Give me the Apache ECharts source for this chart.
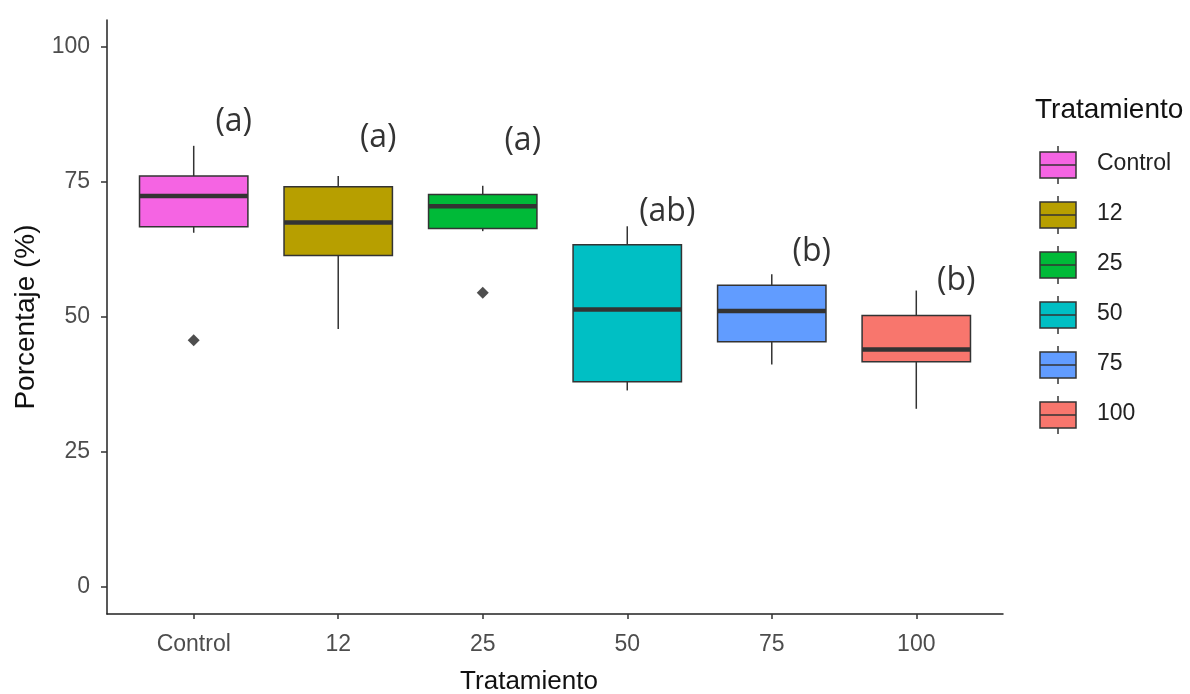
<!DOCTYPE html>
<html>
<head>
<meta charset="utf-8">
<script src="https://cdn.jsdelivr.net/npm/echarts@6/dist/echarts.min.js"></script>
<style>
html,body{margin:0;padding:0;background:#fff;}
#chart{width:1190px;height:694px;}
</style>
</head>
<body>
<div id="chart"></div>
<script>
// ---- data ----
const categories = ['Control', '12', '25', '50', '75', '100'];
const whiskerLow = [65.6, 47.8, 65.9, 36.4, 41.2, 33.0];
const q1Values   = [66.7, 61.4, 66.4, 38.0, 45.4, 41.7];
const medians    = [72.4, 67.5, 70.5, 51.4, 51.1, 44.0];
const q3Values   = [76.1, 74.1, 72.7, 63.4, 55.9, 50.3];
const whiskerHigh= [81.7, 76.1, 74.3, 66.8, 57.9, 54.9];
const outliers   = [45.7, null, 54.5, null, null, null];
const letters    = ['(a)', '(a)', '(a)', '(ab)', '(b)', '(b)'];
const letterY    = [86.1, 83.1, 82.7, 69.4, 62.0, 56.6];
const yTicks     = [0, 25, 50, 75, 100];
const colors     = ['#F564E3', '#B79F00', '#00BA38', '#00BFC4', '#619CFF', '#F8766D'];

const chart = echarts.init(document.getElementById('chart'), null, {renderer: 'canvas'});

const boxData = categories.map((c, i) => [i + 1, whiskerLow[i], q1Values[i], medians[i], q3Values[i], whiskerHigh[i]]);
const outlierData = [];
outliers.forEach((v, i) => { if (v !== null) outlierData.push([i + 1, v]); });
const letterData = letters.map((t, i) => ({value: [i + 1, letterY[i]], name: t}));
const catTicks = categories.map((c, i) => i + 1);

const DARK = '#333333';

function renderBox(params, api) {
  const i = params.dataIndex;
  const x = api.value(0);
  const lo = api.coord([x, api.value(1)]);
  const q1 = api.coord([x, api.value(2)]);
  const md = api.coord([x, api.value(3)]);
  const q3 = api.coord([x, api.value(4)]);
  const hi = api.coord([x, api.value(5)]);
  const halfW = api.size([0.75, 0])[0] / 2;
  const cx = q1[0];
  return {
    type: 'group',
    children: [
      {type: 'line', shape: {x1: cx, y1: hi[1], x2: cx, y2: q3[1]}, style: {stroke: DARK, lineWidth: 1.5}},
      {type: 'line', shape: {x1: cx, y1: q1[1], x2: cx, y2: lo[1]}, style: {stroke: DARK, lineWidth: 1.5}},
      {type: 'rect', shape: {x: cx - halfW, y: q3[1], width: halfW * 2, height: q1[1] - q3[1]},
        style: {fill: colors[i], stroke: DARK, lineWidth: 1.5}},
      {type: 'line', shape: {x1: cx - halfW, y1: md[1], x2: cx + halfW, y2: md[1]}, style: {stroke: DARK, lineWidth: 4.5}}
    ]
  };
}

// legend built from categories and colours
const legendChildren = [{
  type: 'text', left: 1035, top: 96,
  style: {text: 'Tratamiento', font: '28px "Liberation Sans", Arial, sans-serif', fill: '#111'}
}];
categories.forEach((c, i) => {
  const cy = 165 + i * 50;
  legendChildren.push(
    {type: 'line', shape: {x1: 1058, y1: cy - 19, x2: 1058, y2: cy + 19}, style: {stroke: DARK, lineWidth: 1.5}},
    {type: 'rect', shape: {x: 1040, y: cy - 13, width: 36, height: 26}, style: {fill: colors[i], stroke: DARK, lineWidth: 1.5}},
    {type: 'line', shape: {x1: 1040, y1: cy, x2: 1076, y2: cy}, style: {stroke: DARK, lineWidth: 1.5}},
    {type: 'text', left: 1097, top: cy - 13,
      style: {text: c, font: '23px "Liberation Sans", Arial, sans-serif', fill: '#222'}}
  );
});

const option = {
  backgroundColor: '#ffffff',
  animation: false,
  grid: {left: 107, right: 187, top: 20, bottom: 80, containLabel: false, outerBoundsMode: 'none'},
  xAxis: {
    type: 'value', min: 0.4, max: 6.6,
    name: 'Tratamiento', nameLocation: 'middle', nameGap: 55,
    nameTextStyle: {fontSize: 26, color: '#111', fontFamily: 'Liberation Sans', padding: [0, 52, 0, 0]},
    axisLine: {show: true, onZero: false, lineStyle: {color: '#222', width: 1.5}},
    axisTick: {show: true, customValues: catTicks, length: 5, lineStyle: {color: '#333', width: 1.5}},
    axisLabel: {customValues: catTicks, formatter: v => categories[Math.round(v) - 1],
      fontSize: 23, color: '#4D4D4D', fontFamily: 'Liberation Sans', margin: 19},
    splitLine: {show: false}
  },
  yAxis: {
    type: 'value', min: -5, max: 105,
    name: 'Porcentaje (%)', nameLocation: 'middle', nameRotate: 90, nameGap: 60,
    nameTextStyle: {fontSize: 28, color: '#111', fontFamily: 'Liberation Sans'},
    axisLine: {show: true, onZero: false, lineStyle: {color: '#222', width: 1.5}},
    axisTick: {show: true, customValues: yTicks, length: 6, lineStyle: {color: '#333', width: 1.5}},
    axisLabel: {customValues: yTicks, fontSize: 23, color: '#4D4D4D', fontFamily: 'Liberation Sans', margin: 17},
    splitLine: {show: false}
  },
  series: [
    {
      type: 'custom', name: 'box', renderItem: renderBox,
      encode: {x: 0, y: [1, 2, 3, 4, 5]}, data: boxData, z: 2
    },
    {
      type: 'scatter', name: 'outlier', data: outlierData, symbol: 'diamond', symbolSize: 12,
      itemStyle: {color: '#222'}, z: 3
    },
    {
      type: 'scatter', name: 'letters', data: letterData, symbolSize: 0, z: 4,
      label: {show: true, position: 'inside', offset: [40, 0], formatter: p => p.name,
        fontSize: 32, color: '#000', textBorderWidth: 0, fontFamily: 'Open Sans'}
    }
  ],
  graphic: legendChildren
};
chart.setOption(option);
</script>
</body>
</html>
